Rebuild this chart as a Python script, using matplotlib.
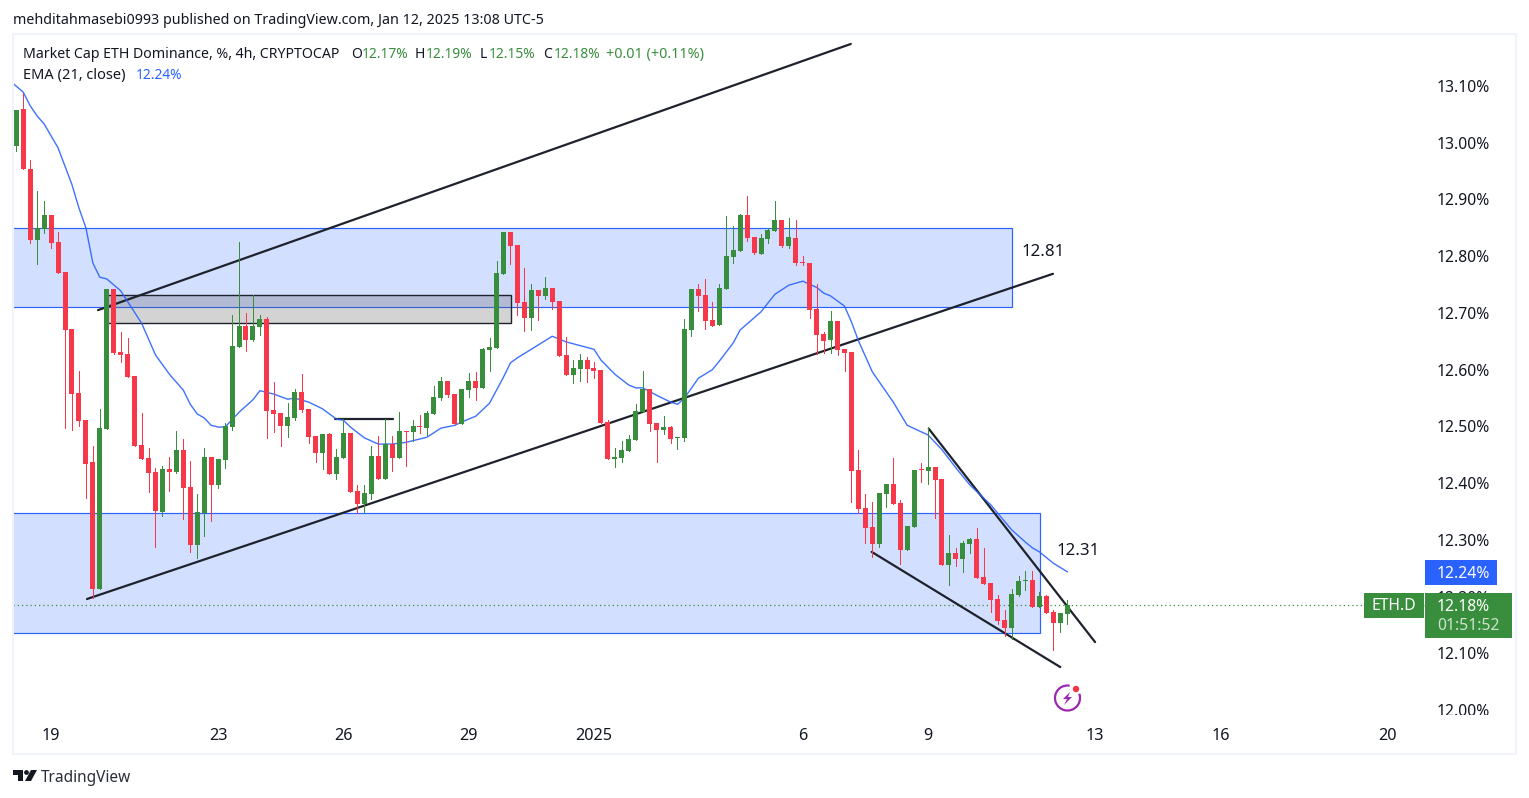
import matplotlib
matplotlib.use("Agg")
import matplotlib.pyplot as plt
from matplotlib.patches import Rectangle, Circle, Polygon, Arc
from matplotlib.transforms import IdentityTransform

plt.rcParams['font.family'] = ['Noto Sans', 'DejaVu Sans']

opens = [12.994,13.060,12.954,12.829,12.848,12.873,12.825,12.772,12.672,12.559,12.511,12.437,12.214,12.495,12.742,12.631,12.628,12.589,12.467,12.444,
12.420,12.349,12.425,12.420,12.459,12.393,12.291,12.347,12.446,12.397,12.441,12.499,12.640,12.677,12.652,12.675,12.690,12.529,12.524,12.501,
12.515,12.561,12.531,12.483,12.453,12.487,12.416,12.444,12.488,12.386,12.363,12.381,12.448,12.407,12.469,12.444,12.492,12.490,12.501,12.497,
12.522,12.550,12.580,12.557,12.504,12.564,12.580,12.568,12.635,12.638,12.768,12.843,12.820,12.719,12.691,12.741,12.730,12.744,12.721,12.626,
12.591,12.601,12.617,12.603,12.600,12.508,12.443,12.444,12.457,12.476,12.526,12.566,12.506,12.494,12.499,12.480,12.480,12.670,12.742,12.732,
12.688,12.679,12.742,12.798,12.809,12.873,12.834,12.804,12.830,12.844,12.864,12.818,12.832,12.790,12.788,12.707,12.663,12.652,12.686,12.637,
12.631,12.423,12.356,12.323,12.293,12.381,12.399,12.365,12.282,12.323,12.425,12.421,12.428,12.407,12.256,12.277,12.266,12.293,12.302,12.235,
12.224,12.196,12.159,12.145,12.203,12.228,12.229,12.182,12.201,12.173,12.154,12.170]
highs = [13.058,13.088,12.970,12.915,12.897,12.873,12.843,12.772,12.672,12.598,12.511,12.466,12.530,12.742,12.742,12.666,12.656,12.589,12.524,12.462,
12.427,12.430,12.446,12.492,12.478,12.439,12.381,12.462,12.446,12.443,12.506,12.696,12.825,12.700,12.732,12.696,12.693,12.578,12.524,12.541,
12.566,12.593,12.531,12.483,12.487,12.488,12.460,12.513,12.488,12.397,12.397,12.466,12.483,12.513,12.483,12.526,12.492,12.511,12.520,12.527,
12.571,12.587,12.580,12.557,12.566,12.594,12.596,12.638,12.656,12.791,12.843,12.843,12.820,12.779,12.751,12.741,12.764,12.744,12.721,12.658,
12.617,12.628,12.622,12.614,12.600,12.511,12.462,12.474,12.485,12.540,12.598,12.566,12.506,12.518,12.501,12.481,12.689,12.742,12.751,12.760,
12.719,12.751,12.871,12.853,12.875,12.906,12.834,12.839,12.850,12.897,12.864,12.867,12.864,12.800,12.788,12.751,12.667,12.703,12.686,12.637,
12.631,12.459,12.381,12.367,12.383,12.399,12.444,12.370,12.325,12.423,12.435,12.499,12.428,12.407,12.309,12.286,12.298,12.304,12.321,12.286,
12.224,12.203,12.177,12.214,12.237,12.245,12.245,12.208,12.203,12.177,12.171,12.194]
lows = [12.985,12.954,12.824,12.786,12.841,12.815,12.771,12.498,12.494,12.501,12.374,12.198,12.214,12.495,12.628,12.613,12.587,12.466,12.443,12.384,
12.288,12.342,12.386,12.418,12.337,12.279,12.268,12.307,12.333,12.392,12.427,12.494,12.640,12.633,12.651,12.661,12.480,12.490,12.466,12.481,
12.511,12.526,12.471,12.437,12.425,12.416,12.407,12.444,12.384,12.347,12.347,12.372,12.407,12.407,12.421,12.444,12.430,12.474,12.488,12.485,
12.522,12.547,12.552,12.504,12.504,12.552,12.547,12.568,12.598,12.638,12.768,12.786,12.696,12.668,12.670,12.688,12.725,12.707,12.624,12.591,
12.577,12.580,12.578,12.585,12.506,12.443,12.428,12.437,12.457,12.476,12.526,12.492,12.437,12.487,12.471,12.460,12.474,12.659,12.703,12.672,
12.677,12.679,12.742,12.788,12.809,12.827,12.804,12.804,12.823,12.844,12.816,12.815,12.785,12.785,12.691,12.628,12.630,12.630,12.626,12.598,
12.367,12.347,12.295,12.270,12.288,12.358,12.363,12.258,12.282,12.323,12.402,12.399,12.339,12.256,12.221,12.254,12.244,12.277,12.233,12.222,
12.173,12.152,12.131,12.126,12.201,12.212,12.182,12.182,12.171,12.106,12.138,12.152]
closes = [13.058,12.954,12.829,12.850,12.873,12.824,12.771,12.670,12.557,12.509,12.434,12.214,12.497,12.742,12.630,12.626,12.587,12.466,12.443,12.418,
12.351,12.425,12.420,12.459,12.392,12.291,12.349,12.446,12.397,12.443,12.501,12.642,12.677,12.652,12.677,12.690,12.528,12.522,12.501,12.517,
12.561,12.529,12.481,12.453,12.487,12.416,12.446,12.488,12.384,12.363,12.383,12.448,12.407,12.469,12.444,12.492,12.490,12.501,12.499,12.524,
12.552,12.580,12.555,12.504,12.566,12.580,12.568,12.637,12.640,12.770,12.843,12.818,12.718,12.691,12.741,12.730,12.744,12.719,12.624,12.591,
12.603,12.617,12.601,12.598,12.506,12.443,12.446,12.459,12.478,12.527,12.566,12.504,12.494,12.499,12.478,12.481,12.672,12.742,12.730,12.686,
12.677,12.744,12.800,12.811,12.873,12.832,12.806,12.832,12.846,12.864,12.818,12.834,12.788,12.788,12.705,12.661,12.651,12.686,12.635,12.630,
12.421,12.354,12.321,12.293,12.383,12.399,12.363,12.282,12.325,12.423,12.423,12.428,12.406,12.256,12.277,12.266,12.295,12.302,12.233,12.222,
12.194,12.157,12.145,12.205,12.228,12.229,12.182,12.201,12.171,12.154,12.171,12.186]

ema_idx = [-1,1,2,3,4,6,8,9,10,11,12,13,15,18,20,22,24,25,26,27,28,29,30,32,34,35,37,39,40,42,44,46,47,48,50,52,54,56,59,61,63,64,66,68,70,71,72,74,77,79,83,84,86,88,89,90,92,94,95,96,98,100,101,103,104,107,109,111,113,115,116,117,119,120,121,123,126,128,131,133,135,137,140,143,145,146,147,149,151]
ema_val = [13.110,13.089,13.065,13.047,13.033,12.991,12.926,12.885,12.850,12.788,12.763,12.760,12.739,12.682,12.626,12.592,12.564,12.539,12.522,12.515,12.502,12.499,12.499,12.525,12.547,12.563,12.557,12.548,12.550,12.543,12.531,12.513,12.511,12.499,12.480,12.469,12.469,12.472,12.481,12.497,12.502,12.508,12.518,12.541,12.587,12.612,12.621,12.636,12.659,12.649,12.636,12.617,12.592,12.573,12.568,12.568,12.555,12.543,12.539,12.550,12.585,12.600,12.615,12.647,12.670,12.702,12.733,12.749,12.756,12.745,12.735,12.730,12.712,12.684,12.651,12.596,12.543,12.502,12.485,12.459,12.427,12.397,12.362,12.318,12.296,12.286,12.279,12.259,12.244]

trend_lines = [((11.74, 12.705), (119.9, 13.174)), ((10.16, 12.196), (148.95, 12.769)),
               ((131.1, 12.496), (155.0, 12.120)), ((122.9, 12.279), (150.0, 12.076)),
               ((45.8, 12.513), (54.1, 12.513))]
zones = [(-1, 143.06, 12.710, 12.850), (-1, 147.08, 12.136, 12.347)]
gray_box = (13, 71.07, 12.683, 12.732)
price_ticks = [12.0, 12.1, 12.2, 12.3, 12.4, 12.5, 12.6, 12.7, 12.8, 12.9, 13.0, 13.1]
date_pos = [5, 29, 47, 65, 83, 113, 131, 155, 173, 197]
date_labels = ['19', '23', '26', '29', '2025', '6', '9', '13', '16', '20']

GREEN, RED, BLUE, DARK = '#388E3C', '#F7374A', '#2962FF', '#1E222D'
W, H = 1529, 798
fig = plt.figure(figsize=(W / 100, H / 100), dpi=100, facecolor='white')
ax = fig.add_axes([13 / W, 1 - 716 / H, 1412 / W, 681 / H])
ax.set_xlim(-0.474, 202.4)
ax.set_ylim(11.9898, 13.1898)
for s in ax.spines.values():
    s.set_visible(False)

for x0, x1, y0, y1 in zones:
    ax.add_patch(Rectangle((x0, y0), x1 - x0, y1 - y0, facecolor='#D2DFFF', edgecolor=BLUE, lw=0.85, zorder=1))
x0, x1, y0, y1 = gray_box
ax.add_patch(Rectangle((x0, y0), x1 - x0, y1 - y0, facecolor=(0.38, 0.38, 0.38, 0.28), edgecolor=DARK, lw=1.0, zorder=1.5))
ax.axhline(closes[-1], color=GREEN, lw=0.9, ls=(0, (1, 2.4)), zorder=1.6)
for (a, b) in trend_lines:
    ax.plot([a[0], b[0]], [a[1], b[1]], color=DARK, lw=1.6, solid_capstyle='round', zorder=2)
ax.plot(ema_idx, ema_val, color=BLUE, lw=1.0, alpha=0.9, zorder=2.5)

for i, (o, h, l, c) in enumerate(zip(opens, highs, lows, closes)):
    col = GREEN if c >= o else RED
    ax.vlines(i, l, h, color=col, lw=0.7, antialiased=False, zorder=3)
    ax.bar(i, max(abs(c - o), 0.0018), bottom=min(o, c), width=0.72, color=col, linewidth=0, zorder=3.1)

ax.yaxis.tick_right()
ax.set_yticks(price_ticks)
ax.set_yticklabels([f'{p:.2f}%' for p in price_ticks])
ax.set_xticks(date_pos)
ax.set_xticklabels(date_labels)
ax.tick_params(axis='y', length=0, pad=8.2, labelsize=11.3, labelcolor='#131722')
ax.tick_params(axis='x', length=0, pad=8.8, labelsize=11.7, labelcolor='#131722')
for t in ax.get_xticklabels():
    if t.get_text() == '2025':
        t.set_fontweight('bold')


def ftext(x, y, s, color='#131722', size=10.0, ha='left', va='center', weight='normal', alpha=1.0, z=8):
    fig.text(x / W, 1 - y / H, s, color=color, fontsize=size, ha=ha, va=va, fontweight=weight, alpha=alpha, zorder=z)


def fbox(x0, y0, x1, y1, color, z=6):
    fig.add_artist(Rectangle((x0 / W, 1 - y1 / H), (x1 - x0) / W, (y1 - y0) / H, transform=fig.transFigure,
                             facecolor=color, edgecolor='none', zorder=z))


# the price scale is cut off at the bottom of the pane
fbox(1430, 715, 1505, 724, 'white', z=4)

# outer frame
fig.add_artist(Rectangle((12.5 / W, 1 - 754 / H), 1503.5 / W, 720 / H, transform=fig.transFigure,
                         facecolor='none', edgecolor='#F0F3FA', lw=1.5, zorder=5))

ftext(13, 20, 'mehditahmasebi0993 published on TradingView.com, Jan 12, 2025 13:08 UTC-5', size=10.28)
ftext(23, 54.5, 'Market Cap ETH Dominance, %, 4h, CRYPTOCAP', size=10.2)
for x, s in [(351, 'O'), (415, 'H'), (480, 'L'), (543, 'C')]:
    ftext(x, 54.5, s)
for x, s in [(362, '12.17%'), (426, '12.19%'), (489, '12.15%'), (554, '12.18%')]:
    ftext(x, 54.5, s, color=GREEN, size=9.9)
ftext(606, 54.5, '+0.01 (+0.11%)', color=GREEN, size=10.3)
ftext(23, 75.5, 'EMA (21, close)', size=10.5)
ftext(136, 75.5, '12.24%', color=BLUE, size=9.9)

ftext(1021, 252, '12.81', size=12.2)
ftext(1056, 551, '12.31', size=12.2)

fbox(1425, 560, 1497, 585, BLUE)
ftext(1437, 573.5, '12.24%', color='white', size=11.3, weight='medium')
fbox(1425, 593, 1512, 638, GREEN)
fbox(1364, 593, 1424, 618, GREEN)
ftext(1394, 606.5, 'ETH.D', color='white', size=11.3, ha='center', weight='medium')
ftext(1437, 607, '12.18%', color='white', size=11.3, weight='medium')
ftext(1437, 626, '01:51:52', color='white', size=11.3, alpha=0.75, weight='medium')

# TradingView logo
ident = IdentityTransform()
def ppoly(points, color, z=7):
    fig.add_artist(Polygon([(x, H - y) for x, y in points], closed=True, transform=ident,
                           facecolor=color, edgecolor='none', zorder=z))
ppoly([(13, 770), (23, 770), (23, 781), (18, 781), (18, 775), (13, 775)], '#131722')
fig.add_artist(Circle((26.5, H - 772.5), 2.4, transform=ident, facecolor='#131722', edgecolor='none', zorder=7))
ppoly([(31, 770), (37, 770), (31, 781), (25, 781)], '#131722')
ftext(41, 777.5, 'TradingView', size=11.1, color='#2A2E39')

# news/lightning icon
fig.add_artist(Arc((1067.5, H - 698), 25, 25, theta1=80, theta2=20, transform=ident, color='#9C27B0', lw=1.6, zorder=7))
ppoly([(1070, 692), (1063, 699), (1067, 699), (1064, 705), (1072, 697), (1068, 697)], '#9C27B0')
fig.add_artist(Circle((1076, H - 689), 3.2, transform=ident, facecolor='#F23645', edgecolor='none', zorder=8))

fig.savefig('out.png', dpi=100)
